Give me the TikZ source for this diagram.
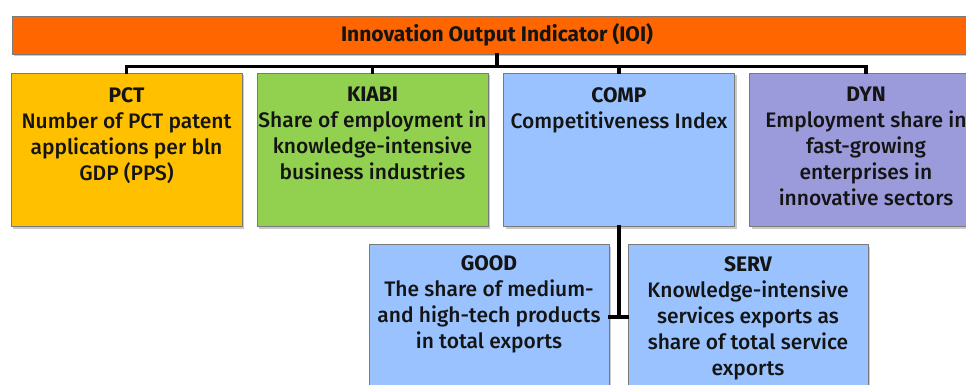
\documentclass[tikz,border=0pt]{standalone}
\usepackage{fontspec}
\setmainfont{Fira Sans}
\newfontfamily\bodyfont{Fira Sans Medium}
\usetikzlibrary{shadows}

\definecolor{ioiorange}{HTML}{FF6600}
\definecolor{pctgold}{HTML}{FFC000}
\definecolor{kiabigreen}{HTML}{92D050}
\definecolor{compblue}{HTML}{99C2FF}
\definecolor{dynpurple}{HTML}{9B9BDC}
\definecolor{ink}{HTML}{141414}
\definecolor{boxline}{HTML}{7A7A7A}

% bold heading line inside an indicator box
\newcommand\boxhead[1]{{\rmfamily\bfseries #1}\\}

\begin{document}
\begin{tikzpicture}[x=1pt,y=-1pt,
  box/.style={draw=boxline, line width=0.8pt, rectangle, inner sep=0pt,
    drop shadow={shadow xshift=2pt, shadow yshift=-2.5pt, opacity=0.3, fill=black!70}},
  lbl/.style={anchor=north, inner sep=0pt, align=center, text=ink,
    font=\bodyfont\fontsize{21}{26}\selectfont},
  conn/.style={line width=3.6pt, draw=black, line cap=rect}
]
\useasboundingbox (0,0) rectangle (966,385);
\clip (0,0) rectangle (966,385);

% top level indicator
\node[box, fill=ioiorange, minimum width=970pt, minimum height=38pt, text=ink,
      font=\rmfamily\bfseries\fontsize{21}{26}\selectfont] (ioi) at (497,35)
      {Innovation Output Indicator (IOI)};

% first level components
\node[box, fill=pctgold, minimum width=231pt, minimum height=153pt] (pct) at (126.5,149.5) {};
\node[lbl] (pct-t) at ([yshift=-14.5pt]pct.north)
  {\boxhead{PCT}Number of PCT patent\\applications per bln\\GDP (PPS)};

\node[box, fill=kiabigreen, minimum width=231pt, minimum height=153pt] (kiabi) at (372.5,149.5) {};
\node[lbl] (kiabi-t) at ([yshift=-14.5pt]kiabi.north)
  {\boxhead{KIABI}Share of employment in\\knowledge-intensive\\business industries};

\node[box, fill=compblue, minimum width=231pt, minimum height=153pt] (comp) at (619,149.5) {};
\node[lbl] (comp-t) at ([yshift=-14.5pt]comp.north)
  {\boxhead{COMP}Competitiveness Index};

\node[box, fill=dynpurple, minimum width=233pt, minimum height=153pt] (dyn) at (866,149.5) {};
\node[lbl] (dyn-t) at ([yshift=-14.5pt]dyn.north)
  {\boxhead{DYN}Employment share in\\fast-growing\\enterprises in\\innovative sectors};

% sub-components of COMP
\node[box, fill=compblue, minimum width=240pt, minimum height=160pt] (good) at (489,324) {};
\node[lbl] (good-t) at ([yshift=-12pt]good.north)
  {\boxhead{GOOD}The share of medium-\\and high-tech products\\in total exports};

\node[box, fill=compblue, minimum width=240pt, minimum height=160pt] (serv) at (748,324) {};
\node[lbl] (serv-t) at ([yshift=-12.5pt]serv.north)
  {\boxhead{SERV}Knowledge-intensive\\services exports as\\share of total service\\exports};

% connectors
\coordinate (bus) at (0,66.5);
\coordinate (stub) at (0,317);
\draw[conn] (ioi.south) -- (ioi.south |- bus);
\draw[conn] (pct.north) -- (pct.north |- bus) -- (dyn.north |- bus) -- (dyn.north);
\draw[conn] (kiabi.north |- bus) -- (kiabi.north);
\draw[conn] (comp.north |- bus) -- (comp.north);
\draw[conn] (comp.south) -- (comp.south |- stub);
\draw[conn] (good.east |- stub) -- (serv.west |- stub);
\end{tikzpicture}
\end{document}
